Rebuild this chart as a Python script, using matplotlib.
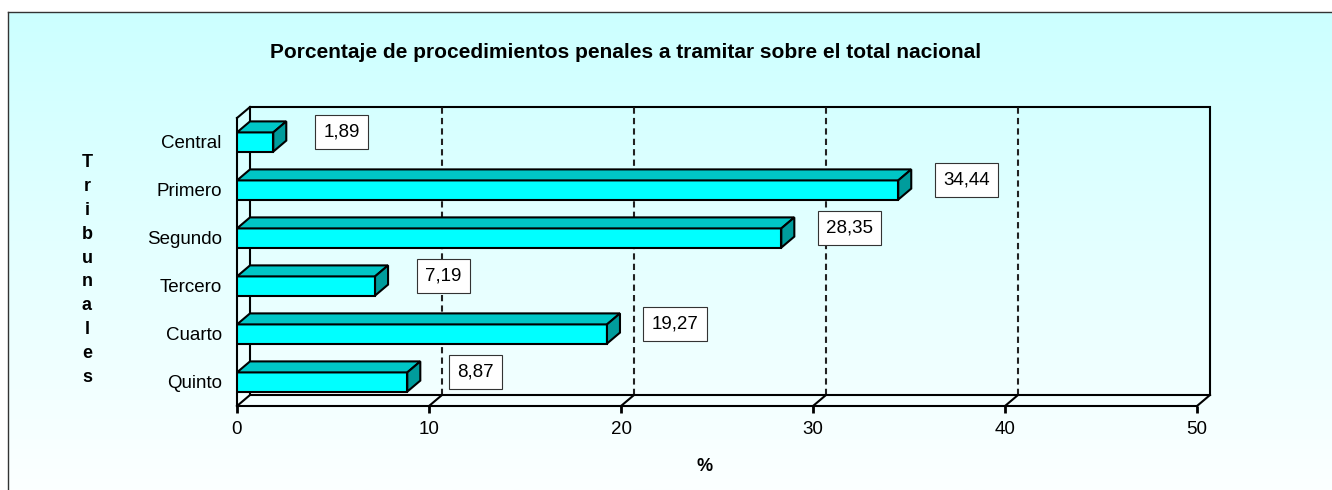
import numpy as np
import matplotlib
matplotlib.use("Agg")
import matplotlib.pyplot as plt
from matplotlib.patches import Polygon, Rectangle

plt.rcParams["font.family"] = ["Liberation Sans", "DejaVu Sans"]

# data
categories = ["Central", "Primero", "Segundo", "Tercero", "Cuarto", "Quinto"]
values = [1.89, 34.44, 28.35, 7.19, 19.27, 8.87]
value_labels = ["1,89", "34,44", "28,35", "7,19", "19,27", "8,87"]
x_ticks = [0, 10, 20, 30, 40, 50]

title = "Porcentaje de procedimientos penales a tramitar sobre el total nacional"
ylabel = "Tribunales"
xlabel = "%"

W, H = 1332, 490
fig = plt.figure(figsize=(W / 100, H / 100), dpi=100)

# background with gradient and border
bg = fig.add_axes([8 / W, 0, 1 - 8 / W, (H - 12) / H])
grad = np.linspace(0, 1, 256).reshape(-1, 1)
top_c = np.array([204, 255, 255]) / 255
bot_c = np.array([252, 255, 255]) / 255
img = top_c[None, None, :] * (1 - grad[:, :, None]) + bot_c[None, None, :] * grad[:, :, None]
bg.imshow(img, aspect="auto", extent=[0, 1, 0, 1])
bg.set_xticks([])
bg.set_yticks([])
bg.spines["right"].set_visible(False)
bg.spines["bottom"].set_visible(False)
bg.spines["left"].set_linewidth(1.0)
bg.spines["top"].set_linewidth(1.0)
bg.spines["left"].set_color("#333333")
bg.spines["top"].set_color("#333333")

# front plane of the chart
ax = fig.add_axes([237 / W, (H - 406) / H, 960 / W, 288 / H])
ax.set_facecolor("none")
ax.set_xlim(0, 50)
ax.set_ylim(5.5, -0.5)

# depth offsets in data units
DX = 13 / 19.2
DY = 11 / 48.0
bh = 0.4
lw = 1.5

# back wall
ax.add_patch(Rectangle((DX, -0.5 - DY), 50, 6, fill=False, ec="black", lw=lw, clip_on=False, zorder=1))
for t in x_ticks[1:-1]:
    ax.plot([t + DX, t + DX], [5.5 - DY, -0.5 - DY], color="#222222", lw=1.5,
            ls=(0, (3, 2)), clip_on=False, zorder=1)
# floor and left wall edges
for t in x_ticks:
    ax.plot([t, t + DX], [5.5, 5.5 - DY], color="black", lw=lw, clip_on=False, zorder=1)
ax.plot([0, DX], [-0.5, -0.5 - DY], color="black", lw=lw, clip_on=False, zorder=1)

# bars
y = np.arange(len(categories))
ax.barh(y, values, height=bh, color="#00FFFF", edgecolor="black", linewidth=lw, zorder=3)
for yi, v in zip(y, values):
    top = yi - bh / 2
    bot = yi + bh / 2
    ax.add_patch(Polygon([(0, top), (v, top), (v + DX, top - DY), (DX, top - DY)],
                         closed=True, fc="#00C6C6", ec="black", lw=lw, zorder=3, clip_on=False))
    ax.add_patch(Polygon([(v, top), (v + DX, top - DY), (v + DX, bot - DY), (v, bot)],
                         closed=True, fc="#009C9C", ec="black", lw=lw, zorder=3, clip_on=False))

# value labels
for yi, v, lab in zip(y, values, value_labels):
    ax.text(v + 3.55, yi - 0.2, lab, ha="center", va="center", fontsize=13.5, zorder=5,
            bbox=dict(boxstyle="square,pad=0.45", fc="white", ec="#333333", lw=0.8))

ax.set_yticks(y)
ax.set_yticklabels(categories, fontsize=13.5)
ax.set_xticks(x_ticks)
ax.set_xticklabels([str(t) for t in x_ticks], fontsize=13.5)
ax.tick_params(axis="y", length=0, pad=11)
ax.tick_params(axis="x", length=5, width=2, pad=6, direction="out")
ax.spines["top"].set_visible(False)
ax.spines["right"].set_visible(False)
ax.spines["left"].set_linewidth(lw)
ax.spines["bottom"].set_linewidth(lw)

fig.text(626 / W, 1 - 53 / H, title, ha="center", va="center", fontsize=15, fontweight="bold")
fig.text(87 / W, 1 - 270 / H, "\n".join(ylabel), ha="center", va="center", fontsize=13,
         fontweight="bold", linespacing=1.53)
fig.text(705 / W, 1 - 466 / H, xlabel, ha="center", va="center", fontsize=13, fontweight="bold")

fig.savefig("out.png", dpi=100)
